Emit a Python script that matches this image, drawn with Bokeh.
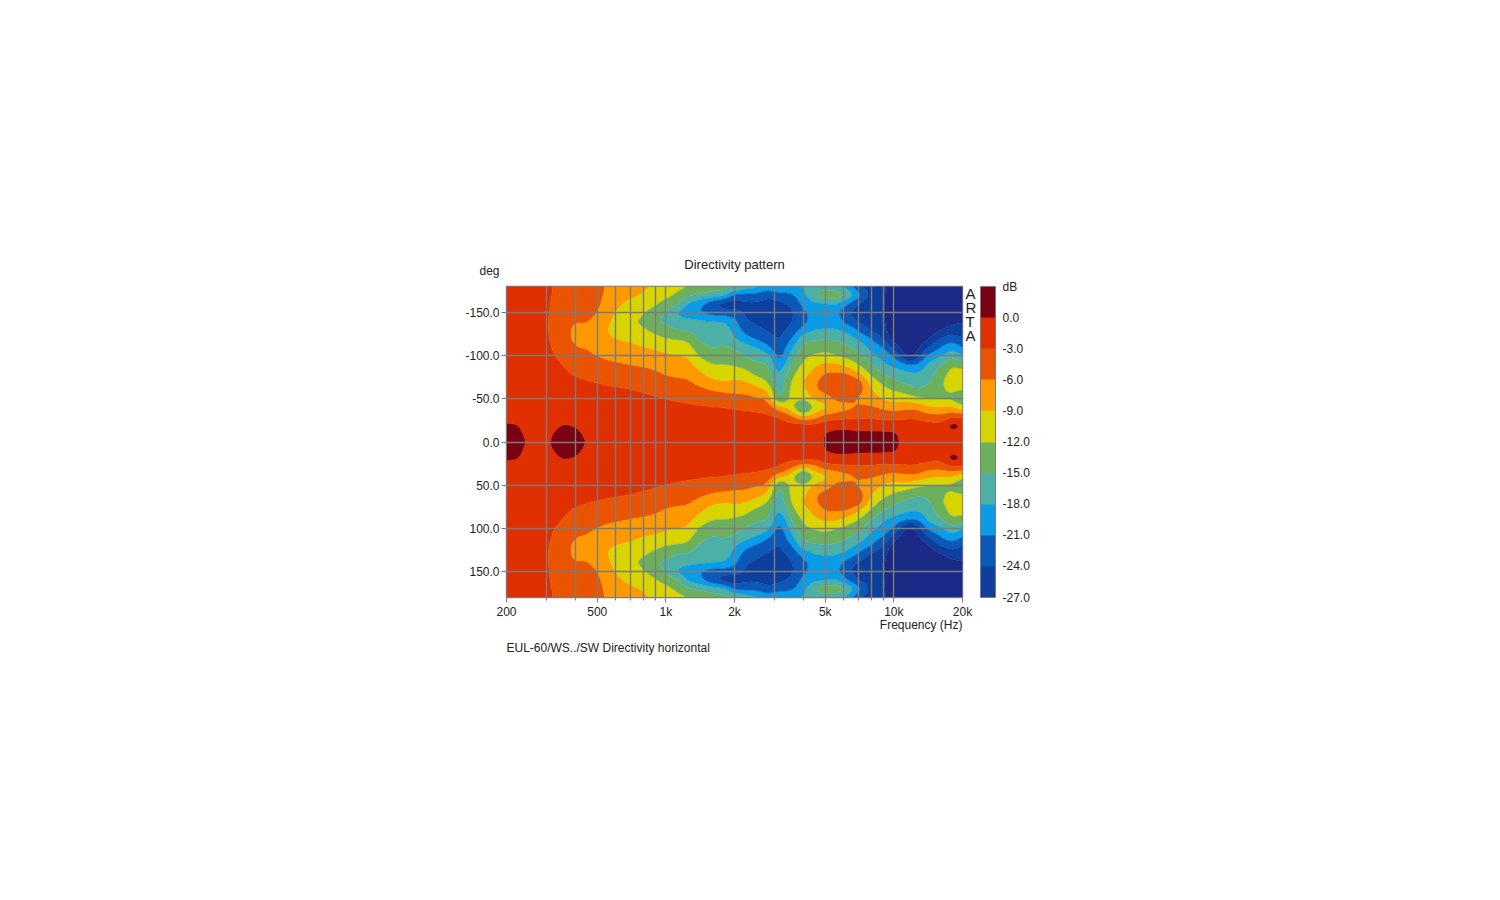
from bokeh.plotting import figure
from bokeh.embed import file_html
from bokeh.resources import INLINE
from bokeh.models import (ColorBar, FixedTicker, LinearAxis, LinearColorMapper, Range1d, Title)
import numpy as np

TITLE = "Directivity pattern"
FOOTER = "EUL-60/WS../SW Directivity horizontal"
X_LABEL = "Frequency (Hz)"
Y_LABEL = "deg"
CB_UNIT = "dB"
LOGO_LETTERS = ["A", "R", "T", "A"]

FREQS = [200, 225, 250, 280, 315, 355, 400, 450, 500, 560, 630, 710, 800, 900, 1000, 1120, 1250, 1400,
         1600, 1800, 2000, 2240, 2500, 2800, 3150, 3550, 4000, 4500, 5000, 5600, 6300, 7100, 8000, 9000,
         10000, 11200, 12500, 14000, 16000, 18000, 20000]
OFF_AXIS = [0, 10, 20, 30, 40, 50, 60, 70, 80, 90, 100, 110, 120, 130, 140, 150, 160, 170, 180]

# dB, one list per frequency, from 0 to 180 degrees off axis
DB_BY_FREQ = [
    [1.0, .6, .1, -.4, -.7, -.9, -1.1, -1.2, -1.3, -1.4, -1.5, -1.6, -1.7, -1.8, -1.9, -2, -2, -2.1, -2.1],
    [.8, .4, .05, -.5, -.8, -1, -1.2, -1.3, -1.4, -1.5, -1.6, -1.7, -1.8, -1.9, -2, -2.1, -2.1, -2.2, -2.2],
    [-.3, -.5, -.7, -.9, -1, -1.2, -1.3, -1.4, -1.5, -1.7, -1.8, -1.9, -2, -2.1, -2.2, -2.3, -2.3, -2.4, -2.4],
    [-.2, -.4, -.6, -.8, -1, -1.2, -1.4, -1.6, -1.8, -2, -2.2, -2.3, -2.5, -2.6, -2.6, -2.6, -2.6, -2.6, -2.6],
    [.0, -.1, -.5, -.9, -1.1, -1.3, -1.5, -1.8, -2.1, -2.4, -2.7, -2.9, -3.05, -3.1, -3.1, -3.05, -3, -2.95, -2.9],
    [.9, .6, .1, -.6, -1, -1.2, -1.5, -1.9, -2.5, -3, -3.7, -4.3, -4.9, -5.1, -4.8, -4.3, -3.9, -3.6, -3.5],
    [.7, .4, -.1, -.8, -1.1, -1.4, -1.8, -2.5, -3.4, -4.3, -5.2, -6, -6.6, -6.5, -6, -5.2, -4.5, -4.2, -4],
    [-.1, -.3, -.6, -1, -1.3, -1.6, -2.1, -2.9, -3.7, -4.6, -5.4, -6.1, -7, -6.5, -5.7, -5.2, -5, -4.9, -4.8],
    [-.3, -.4, -.6, -1, -1.4, -1.8, -2.3, -3.1, -4.1, -5, -6, -7.2, -8.3, -8, -6.8, -5.8, -5.5, -5.3, -5.3],
    [-.4, -.5, -.7, -1.1, -1.5, -2, -2.6, -3.4, -4.4, -5.5, -6.6, -7.7, -8.7, -9, -8.5, -7.8, -7, -6.6, -6.3],
    [-.5, -.6, -.8, -1.2, -1.6, -2.1, -2.7, -3.6, -4.7, -5.8, -6.9, -8, -9.2, -10.6, -10.7, -9.8, -8.8, -8, -7.4],
    [-.5, -.7, -.9, -1.3, -1.7, -2.3, -2.9, -3.9, -5, -6.1, -7.2, -8.4, -9.6, -11.4, -11.6, -10.8, -9.7, -8.5, -8],
    [-.6, -.8, -1, -1.4, -1.9, -2.5, -3.2, -4.1, -5.2, -6.3, -7.7, -9, -10.1, -11.6, -12.6, -11.7, -10.6, -9.2, -8.5],
    [-.7, -.9, -1.1, -1.5, -2.1, -2.7, -3.6, -4.6, -5.6, -6.8, -8, -9.4, -11, -13, -15, -13.3, -11.6, -10.2, -9.5],
    [-.8, -1, -1.2, -1.7, -2.3, -3, -4, -5.2, -6.3, -7.4, -8.5, -10, -12, -13.9, -15.7, -15.4, -13, -11.1, -10.2],
    [-.9, -1.1, -1.3, -1.8, -2.5, -3.2, -4.3, -5.5, -6.6, -7.7, -8.9, -10.5, -12.2, -15.2, -16.8, -18.5, -14.2, -12.4, -11],
    [-1, -1.2, -1.4, -1.9, -2.6, -3.5, -4.5, -5.6, -6.8, -7.9, -9.2, -10.7, -12.6, -15.4, -17, -20, -18.5, -14.5, -11.8],
    [-1, -1.2, -1.5, -2, -2.7, -3.7, -5.1, -6.9, -8.4, -10.3, -12.2, -14, -15.6, -16.4, -17.5, -21, -20, -15.2, -13],
    [-1.1, -1.3, -1.6, -2.1, -2.8, -4.3, -6, -8.5, -10.3, -12, -14, -15.4, -16, -16.8, -17.7, -22.5, -23.5, -16, -13.8],
    [-1.2, -1.4, -1.7, -2.2, -2.9, -4.6, -6.4, -9, -10.5, -12, -13.3, -14.7, -15.7, -16.6, -18, -22.5, -26, -16.6, -14],
    [-1.2, -1.4, -1.7, -2.2, -3.2, -4.9, -6.6, -8.5, -10.5, -12.3, -13.8, -15.3, -17.8, -18.8, -20, -23, -26, -22, -14],
    [-1.2, -1.4, -1.7, -2.2, -3.4, -5, -6.8, -8.8, -11, -13.2, -15.4, -16.9, -19.9, -22.5, -24, -24.5, -24.6, -22, -16],
    [-1.2, -1.4, -1.7, -2.4, -3.7, -5.6, -7.8, -10.2, -13, -14.6, -16.3, -18, -21.5, -23.4, -24.4, -25, -24.6, -22, -17],
    [-1.3, -1.5, -1.9, -2.6, -4, -6, -8.9, -12.2, -13.6, -14.7, -16.7, -20.5, -22.9, -24.3, -25.5, -25.8, -25, -23.6, -19],
    [-1.4, -1.6, -2, -3, -7.8, -16.5, -17, -17.5, -19, -21, -23, -23.5, -24.5, -25, -25.3, -25.3, -24.7, -22.5, -17],
    [-1.5, -1.7, -2.1, -5.5, -10, -10.5, -10.8, -11.6, -12.9, -14.6, -16.7, -18.7, -21.3, -23.4, -24.3, -24.7, -23.5, -21.7, -18.5],
    [-1.5, -1.7, -1.9, -9, -19, -11, -9.8, -8.9, -10.2, -11.4, -12.6, -14.1, -16, -19.8, -22, -21.5, -20, -19, -17.6],
    [-1.6, -1.8, -2.4, -7.5, -10.5, -8.3, -6.2, -6.3, -8, -9.4, -11.6, -13.6, -15.4, -18, -19.6, -20, -18.6, -14.5, -17],
    [.5, .3, -1.4, -4.8, -10.2, -7.6, -5, -4.4, -5.8, -8.4, -11, -13.1, -15.1, -17.8, -19.8, -20, -18.5, -12.5, -16.8],
    [.9, .6, -.7, -4.5, -7.8, -4.9, -3.7, -3.3, -5.7, -8.4, -12, -13.7, -15.5, -17.8, -19.6, -19.9, -17.8, -12.5, -17.2],
    [1, .7, -1, -3.9, -6.9, -5, -3.6, -3.4, -6, -10.3, -13, -14.7, -16.6, -19, -22.5, -24.1, -21, -15.2, -19],
    [.9, .6, -1.2, -3.7, -5.5, -6.6, -4.8, -4.4, -9.3, -12.4, -14, -16.1, -19, -21.7, -24.8, -25.3, -24.8, -20, -24.5],
    [.9, .6, -1.4, -3.6, -5.6, -7.3, -8.8, -10.6, -13, -14.9, -17.5, -19.5, -20.8, -25, -25.8, -26, -26, -25.5, -25],
    [.9, .6, -1.5, -4.2, -6.4, -9.3, -11, -13, -15.2, -17.8, -19.3, -20.8, -24.5, -26, -26.3, -26.5, -26.5, -26.3, -26],
    [.7, .5, -1.6, -4, -7.5, -10, -12.1, -14.3, -16.7, -18.7, -20.8, -25.5, -28.5, -29.5, -30, -30, -30, -30, -30],
    [-.7, -.9, -1.7, -3.7, -6.6, -9.8, -13.2, -15.8, -17.4, -20.2, -28, -29, -29.5, -30, -30, -30, -30, -30, -30],
    [-.8, -1, -1.7, -3.6, -6.5, -11, -14.6, -16.2, -18, -21.1, -27.2, -28.5, -29, -29.5, -30, -30, -30, -30, -30],
    [-.9, -1.1, -1.9, -4.9, -8.3, -12, -14.2, -15.9, -16.8, -17.7, -20.1, -24.5, -28, -29, -29.5, -30, -30, -30, -30],
    [-.9, -1.2, -2.4, -5.4, -8.7, -12.4, -12.4, -12.3, -13.6, -15.3, -18.6, -21, -23.5, -27.5, -29, -29.5, -30, -30, -30],
    [-.6, -.6, 1.6, -3.6, -8.5, -12.5, -11.5, -10.5, -10.7, -12.2, -15.7, -18.8, -22.5, -25.5, -28, -29, -30, -30, -30],
    [-1, -1.2, -.2, -3.7, -10.7, -15.3, -11.9, -9.8, -10.6, -13.5, -18, -21.2, -24, -26, -27.2, -29, -30, -30, -30],
]

LEVELS = [-40, -27, -24, -21, -18, -15, -12, -9, -6, -3, 0, 3]
BAND_COLORS = ["#1b2a86", "#0d3f9e", "#0a58b8", "#0a9ce6", "#4cb0a6", "#6db05c",
               "#d8d400", "#ff9900", "#ea5400", "#e02f00", "#7a0012"]
CB_TICKS = [-27, -24, -21, -18, -15, -12, -9, -6, -3, 0]
X_TICKS = {200: "200", 500: "500", 1000: "1k", 2000: "2k", 5000: "5k", 10000: "10k", 20000: "20k"}
X_MINOR = [300, 400, 600, 700, 800, 900, 3000, 4000, 6000, 7000, 8000, 9000]
Y_TICKS = [-150, -100, -50, 0, 50, 100, 150]

FONT = "Liberation Sans"
TXT = "#222222"
GRID = "#7c7c7c"
LEFT, TOP, FW, FH, RIGHT, BOTTOM = 506, 286, 456, 311, 110, 90


def smooth_grid(freqs, angles, table):
    half = np.array(table, dtype=float).T
    zz = np.vstack([half[:0:-1], half])
    yy = np.array([-a for a in angles[:0:-1]] + list(angles), dtype=float)
    lf = np.log10(freqs)
    fine_l = np.interp(np.arange(0, len(lf) - 1 + 1e-9, 0.25), np.arange(len(lf)), lf)
    fine_y = np.arange(yy[0], yy[-1] + 1e-9, 2.5)
    a = np.array([np.interp(fine_l, lf, row) for row in zz])
    b = np.array([np.interp(fine_y, yy, col) for col in a.T]).T
    k = np.array([1, 2, 3, 2, 1]) / 9
    for axis in (0, 1):
        pad = [(2, 2) if i == axis else (0, 0) for i in (0, 1)]
        padded = np.pad(b, pad, mode="edge")
        b = np.apply_along_axis(lambda v: np.convolve(v, k, mode="valid"), axis, padded)
    return 10 ** fine_l, fine_y, b


fx, fy, fz = smooth_grid(FREQS, OFF_AXIS, DB_BY_FREQ)

p = figure(frame_width=FW, frame_height=FH, x_axis_type="log",
           x_range=Range1d(200, 20000), y_range=Range1d(180, -180),
           output_backend="svg", toolbar_location=None, background_fill_color="white",
           min_border_left=LEFT, min_border_top=TOP, min_border_right=RIGHT, min_border_bottom=BOTTOM)

r = p.contour(fx, fy, fz, levels=LEVELS, fill_color=BAND_COLORS,
              line_color=[BAND_COLORS[0]] + BAND_COLORS, line_width=0.7)

p.xaxis.ticker = FixedTicker(ticks=list(X_TICKS), minor_ticks=X_MINOR)
p.xaxis.major_label_overrides = X_TICKS
p.yaxis.ticker = FixedTicker(ticks=Y_TICKS)
p.yaxis.major_label_overrides = {v: f"{v:.1f}" for v in Y_TICKS}
for ax in (p.xaxis[0], p.yaxis[0]):
    ax.major_label_text_font = FONT
    ax.major_label_text_font_size = "12px"
    ax.major_label_text_color = TXT
    ax.axis_line_color = GRID
    ax.major_tick_line_color = GRID
    ax.minor_tick_line_color = GRID
    ax.major_tick_in = 0
    ax.major_tick_out = 5
    ax.minor_tick_in = 0
    ax.minor_tick_out = 3
    ax.major_label_standoff = 2
p.yaxis.minor_tick_line_color = None

p.xgrid[0].ticker = FixedTicker(ticks=list(X_TICKS) + X_MINOR)
p.ygrid[0].ticker = FixedTicker(ticks=Y_TICKS)
for g in (p.xgrid[0], p.ygrid[0]):
    g.level = "overlay"
    g.grid_line_color = GRID
    g.grid_line_width = 1.4
p.outline_line_color = GRID
p.outline_line_width = 1.4

# the four upright letters beside the frame, as labels of a bare axis measured in rows of text
p.extra_y_ranges = {"logo": Range1d(FH / 14, 0)}
logo_rows = [0.53 + i for i in range(len(LOGO_LETTERS))]
logo = LinearAxis(y_range_name="logo", ticker=FixedTicker(ticks=logo_rows),
                  major_label_overrides=dict(zip(logo_rows, LOGO_LETTERS)),
                  major_label_text_font=FONT, major_label_text_font_size="15px", major_label_text_color=TXT,
                  axis_line_color=None, major_tick_line_color=None, minor_tick_line_color=None,
                  major_tick_in=0, major_tick_out=0, major_label_standoff=3)
p.add_layout(logo, "right")

mapper = LinearColorMapper(palette=BAND_COLORS[1:], low=LEVELS[1], high=LEVELS[-1])
cb = ColorBar(color_mapper=mapper, width=15, height=FH, padding=0, margin=0,
              ticker=FixedTicker(ticks=CB_TICKS + [3]),
              major_label_overrides={**{v: f"{v:.1f}" for v in CB_TICKS}, 3: CB_UNIT},
              major_label_text_font=FONT, major_label_text_font_size="12px",
              major_label_text_color=TXT, major_tick_line_color=None, bar_line_color=GRID,
              border_line_color=None, label_standoff=7, location=(1, 0))
p.add_layout(cb, "right")


def title(s, side, align, standoff, offset=0, size="12px"):
    p.add_layout(Title(text=s, align=align, offset=offset, standoff=standoff, text_font=FONT,
                       text_font_size=size, text_font_style="normal", text_color=TXT), side)


title(Y_LABEL, "above", "left", 17, -27)
title(TITLE, "above", "center", -37, size="13px")
title(X_LABEL, "below", "right", -12)
title(FOOTER, "below", "left", 26)

open("out.html", "w").write(file_html(p, INLINE))
